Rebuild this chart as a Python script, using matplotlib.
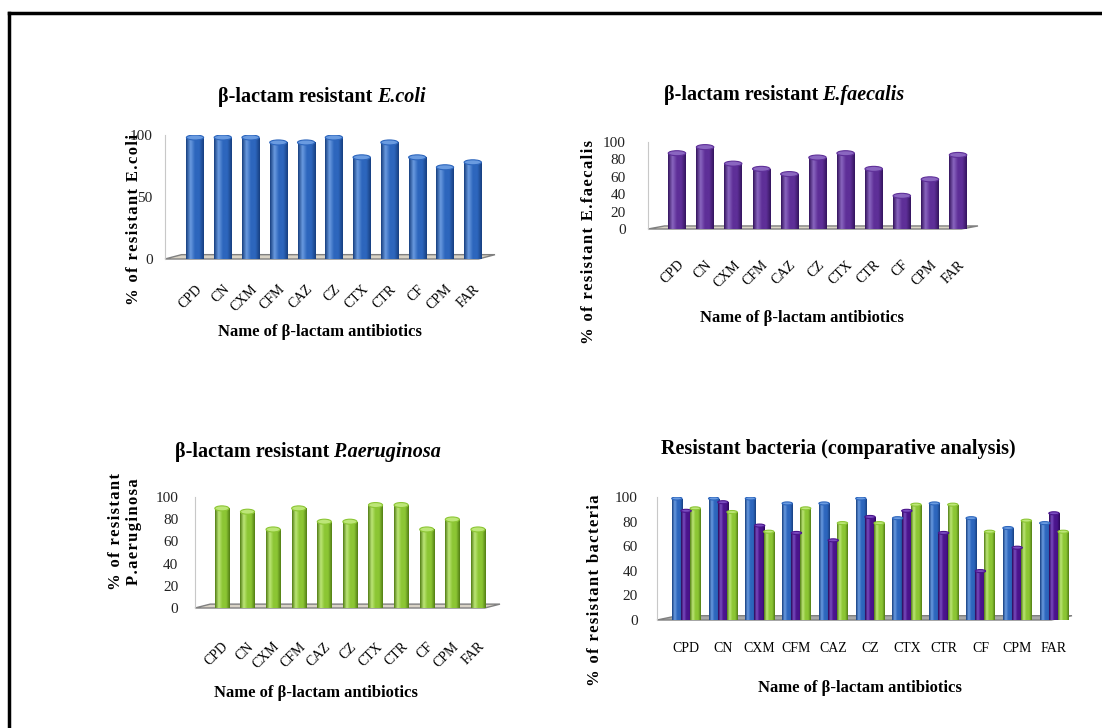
import matplotlib
matplotlib.use('Agg')
import matplotlib.pyplot as plt
import numpy as np
from matplotlib.colors import LinearSegmentedColormap
from matplotlib.patches import Polygon, Ellipse
from matplotlib.lines import Line2D

plt.rcParams['font.family'] = ['Liberation Serif', 'DejaVu Serif']

# data (% resistant isolates)
antibiotics = ['CPD', 'CN', 'CXM', 'CFM', 'CAZ', 'CZ', 'CTX', 'CTR', 'CF', 'CPM', 'FAR']
ecoli = [100, 100, 100, 96, 96, 100, 84, 96, 84, 76, 80]
efaecalis = [90, 97, 78, 72, 66, 85, 90, 72, 41, 60, 88]
paeruginosa = [92, 89, 73, 92, 80, 80, 95, 95, 73, 82, 73]

# colours: base, highlight, shadow
BLUE = ('#2d66bd', '#6a9be0', '#173f80')
PURPLE = ('#5e2f98', '#8a66c0', '#34145e')
PURPLE2 = ('#4a148c', '#7a4cc0', '#2a0658')
GREEN = ('#8cc634', '#bde678', '#527e14')

W, H = 1102, 728
fig = plt.figure(figsize=(W / 100, H / 100), dpi=100)
renderer = fig.canvas.get_renderer()


def px_ax(l, r, b, t):
    return fig.add_axes([l / W, 1 - b / H, (r - l) / W, (b - t) / H])


def ftext(x, y, s, **kw):
    fig.text(x / W, 1 - y / H, s, ha='center', va='center', **kw)


def spaced(s):
    # the axis titles are letter-spaced in the original
    return '\n'.join('\u200a'.join(line) for line in s.split('\n'))


def title(xc, y, normal, italic='', gap=4):
    kw = dict(fontsize=14.5, fontweight='bold', va='center', ha='left')
    t1 = fig.text(0, 1 - y / H, normal, **kw)
    w1 = t1.get_window_extent(renderer).width
    w2 = 0
    if italic:
        t2 = fig.text(0, 1 - y / H, italic, style='italic', **kw)
        w2 = t2.get_window_extent(renderer).width + gap
    x0 = xc - (w1 + w2) / 2
    t1.set_x(x0 / W)
    if italic:
        t2.set_x((x0 + w1 + gap) / W)


def cylinders(ax, x, vals, width, col, cap_px=5):
    base, light, dark = col
    cmap = LinearSegmentedColormap.from_list('cyl', [dark, light, base, base, dark])
    grad = np.linspace(0, 1, 64).reshape(1, -1)
    h_px = ax.get_position().height * H
    cap = cap_px * 100 / h_px
    bars = ax.bar(x, [v - cap / 2 for v in vals], width, color=base, zorder=3)
    for b in bars:
        x0, w, h = b.get_x(), b.get_width(), b.get_height()
        im = ax.imshow(grad, cmap=cmap, extent=[x0, x0 + w, 0, h], aspect='auto',
                       zorder=3, interpolation='bilinear')
        im.set_clip_path(b)
        ax.add_patch(Ellipse((x0 + w / 2, h), w, cap, facecolor=light,
                             edgecolor=base, lw=0.8, zorder=4))


def floor(ax, colour='#d9d3c6'):
    ax.add_patch(Polygon([(0, 0), (0.95, 0), (1.0, 0.035), (0.05, 0.035)],
                         closed=True, transform=ax.transAxes, facecolor=colour,
                         edgecolor='#808080', lw=1, zorder=1, clip_on=False))


def style(ax, yticks, xlim, pad):
    for s in ['top', 'right', 'bottom']:
        ax.spines[s].set_visible(False)
    ax.spines['left'].set_color('#c8c8c8')
    ax.set_ylim(0, 100)
    ax.set_xlim(*xlim)
    ax.set_yticks(yticks)
    ax.tick_params(axis='y', length=0, pad=pad, labelsize=11, labelcolor='#222222')
    ax.tick_params(axis='x', length=0)
    ax.set_facecolor('none')


pos = np.arange(len(antibiotics))
ylab_kw = dict(fontsize=12, fontweight='bold', rotation=90)
xlab_kw = dict(fontsize=12, fontweight='bold')
rot_kw = dict(rotation=45, ha='right', rotation_mode='anchor', fontsize=10)

# --- E. coli ---
ax1 = px_ax(165, 495, 259, 135)
floor(ax1)
cylinders(ax1, pos, ecoli, 0.62, BLUE)
style(ax1, [0, 50, 100], (-1.08, 10.8), 9)
ax1.set_xticks(pos)
ax1.set_xticklabels(antibiotics, **rot_kw)
ax1.tick_params(axis='x', pad=17)
title(322, 97, 'β-lactam resistant', 'E.coli')
ftext(134, 219, spaced('% of resistant E.coli'), **ylab_kw)
ftext(320, 332, 'Name of β-lactam antibiotics', **xlab_kw)

# --- E. faecalis ---
ax2 = px_ax(648, 978, 229, 142)
floor(ax2)
cylinders(ax2, pos, efaecalis, 0.62, PURPLE)
style(ax2, range(0, 101, 20), (-1.03, 10.71), 16)
ax2.set_xticks(pos)
ax2.set_xticklabels(antibiotics, **rot_kw)
ax2.tick_params(axis='x', pad=21)
title(784, 95, 'β-lactam resistant', 'E.faecalis')
ftext(589, 242, spaced('% of resistant E.faecalis'), **ylab_kw)
ftext(802, 318, 'Name of β-lactam antibiotics', **xlab_kw)

# --- P. aeruginosa ---
ax3 = px_ax(195, 500, 608, 497)
floor(ax3)
cylinders(ax3, pos, paeruginosa, 0.55, GREEN)
style(ax3, range(0, 101, 20), (-1.05, 10.86), 12)
ax3.set_xticks(pos)
ax3.set_xticklabels(antibiotics, **rot_kw)
ax3.tick_params(axis='x', pad=23)
title(308, 452, 'β-lactam resistant', 'P.aeruginosa')
ftext(125, 532, spaced('% of resistant\nP.aeruginosa'), linespacing=1.1, **ylab_kw)
ftext(316, 693, 'Name of β-lactam antibiotics', **xlab_kw)

# --- comparative ---
ax4 = px_ax(657, 1072, 620, 497)
floor(ax4, '#a8a8a8')
off = 0.25
cylinders(ax4, pos - off, ecoli, 0.28, BLUE, 3)
cylinders(ax4, pos, efaecalis, 0.28, PURPLE2, 3)
cylinders(ax4, pos + off, paeruginosa, 0.28, GREEN, 3)
style(ax4, range(0, 101, 20), (-0.79, 10.49), 14)
ax4.set_xticks(pos)
ax4.set_xticklabels(antibiotics, fontsize=10)
ax4.tick_params(axis='x', pad=16)
title(838, 449, 'Resistant bacteria (comparative analysis)')
ftext(595, 590, spaced('% of resistant bacteria'), **ylab_kw)
ftext(860, 688, 'Name of β-lactam antibiotics', **xlab_kw)

# partial frame (top and left edges)
fig.add_artist(Line2D([9 / W, 1], [1 - 13 / H, 1 - 13 / H], color='black', lw=2.5,
                      transform=fig.transFigure))
fig.add_artist(Line2D([9 / W, 9 / W], [0, 1 - 13 / H], color='black', lw=2.5,
                      transform=fig.transFigure))

fig.savefig('out.png', dpi=100)
